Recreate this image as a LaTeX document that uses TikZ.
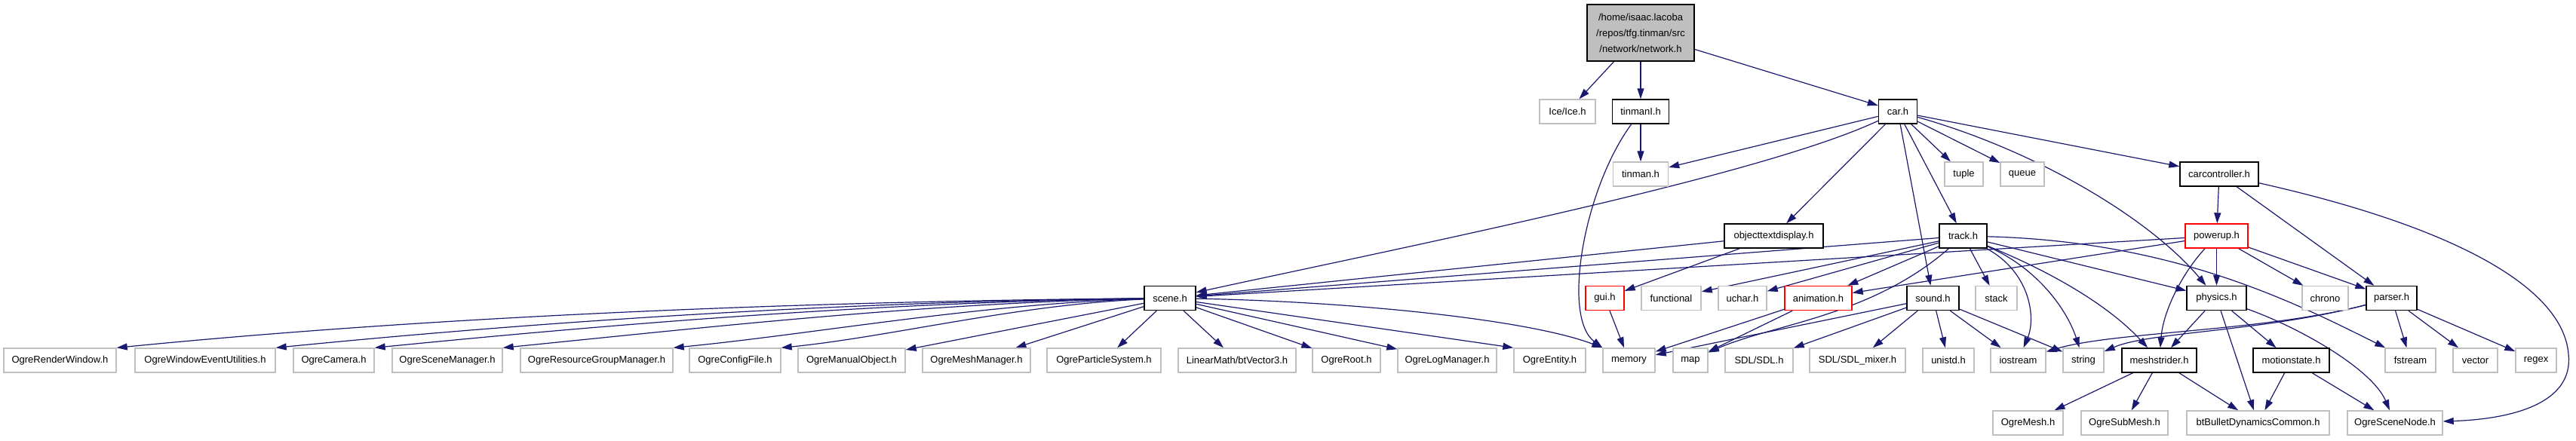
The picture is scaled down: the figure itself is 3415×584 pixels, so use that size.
\documentclass[tikz,border=0pt]{standalone}
\usepackage{fontspec}
\setmainfont{Liberation Sans}
\usetikzlibrary{arrows.meta}
\definecolor{edgec}{HTML}{191970}
\definecolor{grayb}{HTML}{BFBFBF}
\definecolor{redb}{HTML}{FF0000}
\pgfdeclarelayer{bg}
\pgfdeclarelayer{paper}
\pgfsetlayers{paper,bg,main}
\tikzset{
  base/.style={rectangle, draw, fill=white, line width=1.4pt, minimum height=32pt, inner sep=0pt, font=\fontsize{13}{15}\selectfont, text=black},
  gb/.style={base, draw=grayb},
  bb/.style={base, draw=black},
  rb/.style={base, draw=redb},
  dep/.style={draw=edgec, line width=1.2pt, -{Triangle[length=14pt,width=9pt]}},
}
\begin{document}
\begin{tikzpicture}[x=1pt,y=-1pt]
\begin{pgfonlayer}{paper}
\fill[white] (0,0) rectangle (3415,584);
\end{pgfonlayer}
\useasboundingbox (0,0) rectangle (3415,584);
% row 0
\node[bb, fill=grayb, minimum width=142pt, minimum height=75pt, align=center, font=\fontsize{13}{21}\selectfont] (main) at (2175,43.5) {/home/isaac.lacoba\\/repos/tfg.tinman/src\\/network/network.h};
% row 1
\node[gb, minimum width=74pt] (ice) at (2078,148) {Ice/Ice.h};
\node[bb, minimum width=75pt] (tinmanI) at (2175,148) {tinmanI.h};
\node[bb, minimum width=51pt] (car) at (2516,148) {car.h};
% row 2
\node[gb, minimum width=73pt] (tinman) at (2175,231) {tinman.h};
\node[gb, minimum width=51pt] (tuple) at (2603.5,231) {tuple};
\node[gb, minimum width=58pt] (queue) at (2681,231) {queue};
\node[bb, minimum width=104pt] (carctl) at (2942,231) {carcontroller.h};
% row 3
\node[bb, minimum width=131pt] (objtd) at (2351.5,313) {objecttextdisplay.h};
\node[bb, minimum width=63pt] (track) at (2602.5,313) {track.h};
\node[rb, minimum width=83pt] (powerup) at (2938.5,313) {powerup.h};
% row 4
\node[bb, minimum width=68pt] (scene) at (1551,395.5) {scene.h};
\node[rb, minimum width=51pt] (gui) at (2127.5,395.5) {gui.h};
\node[gb, minimum width=79pt] (functional) at (2215.5,395.5) {functional};
\node[gb, minimum width=64pt] (uchar) at (2310,395.5) {uchar.h};
\node[rb, minimum width=89pt] (anim) at (2410.5,395.5) {animation.h};
\node[bb, minimum width=69pt] (sound) at (2562.5,395.5) {sound.h};
\node[gb, minimum width=55pt] (stack) at (2646.5,395.5) {stack};
\node[bb, minimum width=79pt] (physics) at (2938.5,395.5) {physics.h};
\node[gb, minimum width=61pt] (chrono) at (3082.5,395.5) {chrono};
\node[bb, minimum width=67pt] (parser) at (3170.5,395.5) {parser.h};
% row 5
\node[gb, minimum width=149pt] (orw) at (79.5,478) {OgreRenderWindow.h};
\node[gb, minimum width=186pt] (oweu) at (272,478) {OgreWindowEventUtilities.h};
\node[gb, minimum width=107pt] (ocam) at (442.5,478) {OgreCamera.h};
\node[gb, minimum width=146pt] (osm) at (593,478) {OgreSceneManager.h};
\node[gb, minimum width=202pt] (orgm) at (791,478) {OgreResourceGroupManager.h};
\node[gb, minimum width=121pt] (ocf) at (974.5,478) {OgreConfigFile.h};
\node[gb, minimum width=142pt] (omo) at (1129,478) {OgreManualObject.h};
\node[gb, minimum width=143pt] (omm) at (1294.5,478) {OgreMeshManager.h};
\node[gb, minimum width=151pt] (ops) at (1463.5,478) {OgreParticleSystem.h};
\node[gb, minimum width=156pt] (lm) at (1640,478) {LinearMath/btVector3.h};
\node[gb, minimum width=90pt] (oroot) at (1785,478) {OgreRoot.h};
\node[gb, minimum width=131pt] (olm) at (1918.5,478) {OgreLogManager.h};
\node[gb, minimum width=95pt] (oent) at (2054.5,478) {OgreEntity.h};
\node[gb, minimum width=69pt] (memory) at (2159.5,478) {memory};
\node[gb, minimum width=46pt] (map) at (2241,478) {map};
\node[gb, minimum width=90pt] (sdl) at (2332,478) {SDL/SDL.h};
\node[gb, minimum width=127pt] (sdlmix) at (2462.5,478) {SDL/SDL\_mixer.h};
\node[gb, minimum width=68pt] (unistd) at (2583,478) {unistd.h};
\node[gb, minimum width=73pt] (iostream) at (2675.5,478) {iostream};
\node[gb, minimum width=54pt] (string) at (2762,478) {string};
\node[bb, minimum width=99pt] (mesh) at (2862.5,478) {meshstrider.h};
\node[bb, minimum width=101pt] (motion) at (3037.5,478) {motionstate.h};
\node[gb, minimum width=67pt] (fstream) at (3195.5,478) {fstream};
\node[gb, minimum width=59pt] (vector) at (3281.5,478) {vector};
\node[gb, minimum width=54pt] (regex) at (3362,478) {regex};
% row 6
\node[gb, minimum width=93pt] (omesh) at (2688.5,561) {OgreMesh.h};
\node[gb, minimum width=115pt] (osub) at (2816.5,561) {OgreSubMesh.h};
\node[gb, minimum width=189pt] (btb) at (2993.5,561) {btBulletDynamicsCommon.h};
\node[gb, minimum width=126pt] (osn) at (3175,561) {OgreSceneNode.h};

\begin{pgfonlayer}{bg}
\draw[dep] (main) -- (ice);
\draw[dep] (main) -- (tinmanI);
\draw[dep] (main) -- (car);
\draw[dep] (tinmanI) -- (tinman);
\draw[dep] (tinmanI) .. controls (2100,250) and (2070,420) .. (memory.north west);
\draw[dep] (car) -- (tinman);
\draw[dep] (car) .. controls (2330,235) and (1850,330) .. (scene);
\draw[dep] (car) -- (objtd);
\draw[dep] (car) -- (sound);
\draw[dep] (car) -- (track);
\draw[dep] (car) -- (tuple);
\draw[dep] (car) -- (queue);
\draw[dep] (car) .. controls (2700,200) and (2850,290) .. (physics);
\draw[dep] (car) -- (carctl);
\draw[dep] (carctl) -- (powerup);
\draw[dep] (carctl) -- (parser);
\draw[dep] (carctl) .. controls (3250,300) and (3398,380) .. (3405,470) .. controls (3412,535) and (3330,556) .. (osn);
\draw[dep] (powerup) -- (scene);
\draw[dep] (powerup) -- (anim);
\draw[dep] (powerup) .. controls (2895,360) and (2868,410) .. (mesh);
\draw[dep] (powerup) -- (physics);
\draw[dep] (powerup) -- (chrono);
\draw[dep] (powerup) -- (parser);
\draw[dep] (objtd) -- (scene);
\draw[dep] (objtd) -- (gui);
\draw[dep] (gui) -- (memory);
\draw[dep] (track) -- (scene);
\draw[dep] (track) -- (functional);
\draw[dep] (track) -- (uchar);
\draw[dep] (track) -- (anim);
\draw[dep] (track) .. controls (2480,420) and (2350,430) .. (map);
\draw[dep] (track) -- (stack);
\draw[dep] (track) .. controls (2690,360) and (2700,420) .. (iostream);
\draw[dep] (track) .. controls (2700,355) and (2740,410) .. (string);
\draw[dep] (track) .. controls (2730,365) and (2800,410) .. (mesh);
\draw[dep] (track) -- (physics);
\draw[dep] (track) .. controls (2880,320) and (3040,400) .. (fstream);
\draw[dep] (anim) -- (memory);
\draw[dep] (anim) -- (map);
\draw[dep] (sound) -- (memory);
\draw[dep] (sound) -- (sdl);
\draw[dep] (sound) -- (sdlmix);
\draw[dep] (sound) -- (unistd);
\draw[dep] (sound) -- (iostream);
\draw[dep] (sound) -- (string);
\draw[dep] (physics) -- (mesh);
\draw[dep] (physics) -- (btb);
\draw[dep] (physics) -- (motion);
\draw[dep] (physics) .. controls (3050,435) and (3145,490) .. (osn);
\draw[dep] (parser) .. controls (3000,440) and (2800,440) .. (iostream);
\draw[dep] (parser) .. controls (3000,440) and (2850,440) .. (string);
\draw[dep] (parser) -- (fstream);
\draw[dep] (parser) -- (vector);
\draw[dep] (parser) -- (regex);
\draw[dep] (mesh) -- (omesh);
\draw[dep] (mesh) -- (osub);
\draw[dep] (mesh) -- (btb);
\draw[dep] (motion) -- (btb);
\draw[dep] (motion) -- (osn);
% scene.h
\draw[dep] (scene) .. controls (1040,400) and (563,421) .. (orw.north east);
\draw[dep] (scene) .. controls (1114,400) and (711,427) .. (oweu.north east);
\draw[dep] (scene) .. controls (1160,401) and (802,431) .. (ocam.north east);
\draw[dep] (scene) .. controls (1219,402) and (921,436) .. (osm.north east);
\draw[dep] (scene) .. controls (1298,403) and (1080,443) .. (orgm.north east);
\draw[dep] (scene) .. controls (1348,404) and (1180,447) .. (ocf.north east);
\draw[dep] (scene) -- (omo);
\draw[dep] (scene) -- (omm);
\draw[dep] (scene) -- (ops);
\draw[dep] (scene) -- (lm);
\draw[dep] (scene) -- (oroot);
\draw[dep] (scene) -- (olm);
\draw[dep] (scene) -- (oent.north west);
\draw[dep] (scene) .. controls (1800,400) and (2030,425) .. (memory.north west);
\end{pgfonlayer}
\end{tikzpicture}
\end{document}
